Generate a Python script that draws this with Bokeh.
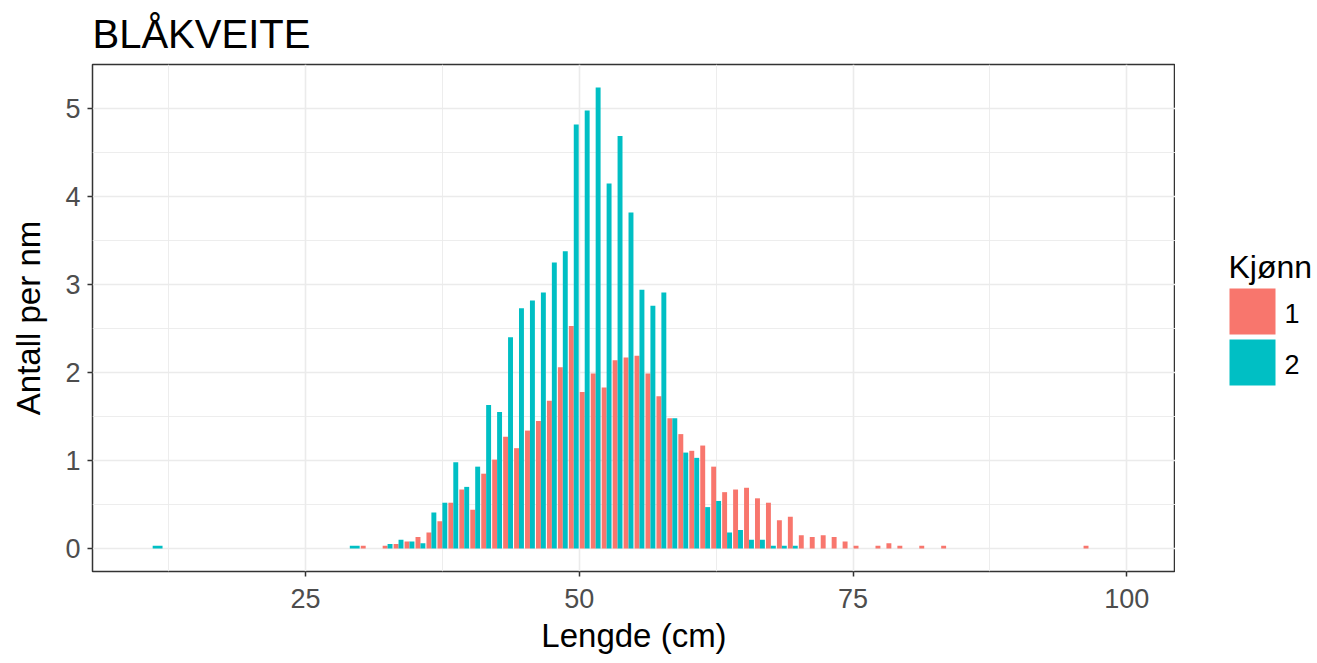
from bokeh.plotting import figure
from bokeh.layouts import row
from bokeh.models import ColumnDataSource, Range1d, FixedTicker
from bokeh.core.properties import value
from bokeh.embed import file_html
from bokeh.resources import INLINE

# ---- data ----
title_text = "BLÅKVEITE"
x_label = "Lengde (cm)"
y_label = "Antall per nm"
legend_title = "Kjønn"
sex_labels = ["1", "2"]

lengths = [11.5, 29.5, 30.5, 32.5, 33.5, 34.5, 35.5, 36.5, 37.5, 38.5, 39.5,
           40.5, 41.5, 42.5, 43.5, 44.5, 45.5, 46.5, 47.5, 48.5, 49.5,
           50.5, 51.5, 52.5, 53.5, 54.5, 55.5, 56.5, 57.5, 58.5, 59.5,
           60.5, 61.5, 62.5, 63.5, 64.5, 65.5, 66.5, 67.5, 68.5, 69.5,
           70.5, 71.5, 72.5, 73.5, 74.5, 75.5, 77.5, 78.5, 79.5, 81.5,
           83.5, 96.5]

sex1 = [None, None, 0.03, 0.03, 0.05, 0.08, 0.13, 0.18, 0.31, 0.52, 0.67,
        0.44, 0.85, 1.01, 1.27, 1.14, 1.34, 1.45, 1.68, 2.06, 2.53,
        1.78, 1.99, 1.83, 2.14, 2.17, 2.19, 1.99, 1.73, 1.48, 1.30,
        1.11, 1.17, 0.93, 0.64, 0.67, 0.69, 0.57, 0.52, 0.32, 0.36,
        0.15, 0.13, 0.15, 0.13, 0.08, 0.03, 0.03, 0.06, 0.03, 0.03,
        0.03, 0.03]

sex2 = [0.03, 0.03, 0.0, 0.05, 0.10, 0.08, 0.06, 0.41, 0.52, 0.98, 0.70,
        0.93, 1.63, 1.55, 2.40, 2.73, 2.82, 2.91, 3.25, 3.38, 4.82,
        4.98, 5.24, 4.15, 4.69, 3.82, 2.94, 2.76, 2.91, 1.48, 1.09,
        1.03, 0.47, 0.54, 0.18, 0.21, 0.10, 0.10, 0.03, 0.03, 0.03,
        0.0, 0.0, 0.0, 0.0, 0.0, 0.0, 0.0, 0.0, 0.0, 0.0,
        0.0, 0.0]

x_ticks = [25, 50, 75, 100]
x_minor = [12.5, 37.5, 62.5, 87.5]
y_ticks = [0, 1, 2, 3, 4, 5]
y_minor = [0.5, 1.5, 2.5, 3.5, 4.5]

RED = "#F8766D"
TEAL = "#00BFC4"
COLORS = [RED, TEAL]
FONT = "Liberation Sans"

# ---- dodge positions (ggplot position_dodge, total width 0.9) ----
DODGE = 0.9
red = dict(x=[], top=[], w=[])
teal = dict(x=[], top=[], w=[])
for L, a, b in zip(lengths, sex1, sex2):
    both = a is not None and b is not None
    if a is not None:
        red["x"].append(L - DODGE / 4 if both else L)
        red["top"].append(a)
        red["w"].append(DODGE / 2 if both else DODGE)
    if b is not None:
        teal["x"].append(L + DODGE / 4 if both else L)
        teal["top"].append(b)
        teal["w"].append(DODGE / 2 if both else DODGE)

TOP, FRAME_H, BOTTOM = 64, 507, 92

p = figure(width=1175, height=663, output_backend="svg", toolbar_location=None,
           x_range=Range1d(5.555, 104.445), y_range=Range1d(-0.262, 5.502),
           min_border_left=92, min_border_right=0, min_border_top=TOP,
           min_border_bottom=BOTTOM)
p.frame_width = 1083
p.frame_height = FRAME_H

p.vbar(x="x", top="top", width="w", source=ColumnDataSource(red),
       fill_color=RED, line_color=None)
p.vbar(x="x", top="top", width="w", source=ColumnDataSource(teal),
       fill_color=TEAL, line_color=None)

# title
p.title.text = title_text
p.title.text_font = FONT
p.title.text_font_size = "40px"
p.title.text_font_style = "normal"
p.title.text_color = "black"
p.title.offset = 0
p.title.standoff = 17

# axes
p.xaxis.ticker = FixedTicker(ticks=x_ticks, minor_ticks=x_minor)
p.yaxis.ticker = FixedTicker(ticks=y_ticks, minor_ticks=y_minor)
for ax in (p.xaxis[0], p.yaxis[0]):
    ax.axis_line_color = None
    ax.major_tick_line_color = "#333333"
    ax.major_tick_line_width = 1.5
    ax.major_tick_out = 5
    ax.major_tick_in = 0
    ax.minor_tick_line_color = None
    ax.major_label_text_font = FONT
    ax.major_label_text_font_size = "27px"
    ax.major_label_text_color = "#4D4D4D"
    ax.axis_label_text_font = FONT
    ax.axis_label_text_font_size = "33px"
    ax.axis_label_text_font_style = "normal"
    ax.axis_label_text_color = "black"
p.xaxis.major_label_standoff = 12
p.xaxis.axis_label_standoff = 6
p.yaxis.major_label_standoff = 7
p.yaxis.axis_label_standoff = 15
p.xaxis.axis_label = x_label
p.yaxis.axis_label = y_label

# grid
for g in (p.xgrid[0], p.ygrid[0]):
    g.grid_line_color = "#EBEBEB"
    g.grid_line_width = 1.6
    g.minor_grid_line_color = "#EBEBEB"
    g.minor_grid_line_width = 0.9

p.outline_line_color = "#333333"
p.outline_line_width = 1.5
p.background_fill_color = "white"
p.border_fill_color = "white"

# ---- legend panel: frame aligned with the main frame, y range = screen y ----
leg = figure(width=142, height=663, output_backend="svg", toolbar_location=None,
             x_range=Range1d(0, 142), y_range=Range1d(TOP + FRAME_H, TOP),
             x_axis_type=None, y_axis_type=None,
             min_border_left=0, min_border_right=0, min_border_top=TOP,
             min_border_bottom=BOTTOM)
leg.frame_width = 142
leg.frame_height = FRAME_H
leg.grid.visible = False
leg.outline_line_color = None
leg.background_fill_color = "white"
leg.border_fill_color = "white"

key_left, key_size, key_gap, key_top0 = 54, 46, 5, 288
key_tops = [key_top0 + i * (key_size + key_gap) for i in range(len(sex_labels))]
leg.quad(left=[key_left] * len(sex_labels),
         right=[key_left + key_size] * len(sex_labels),
         top=key_tops, bottom=[t + key_size for t in key_tops],
         fill_color=COLORS, line_color=None)
leg.text(x=[key_left + key_size + 9] * len(sex_labels),
         y=[t + key_size / 2 + 2 for t in key_tops], text=sex_labels,
         text_font=value(FONT), text_font_size="27px", text_color="black",
         text_baseline="middle", text_align="left")
leg.text(x=[53], y=[266], text=[legend_title],
         text_font=value(FONT), text_font_size="32px", text_color="black",
         text_baseline="middle", text_align="left")

layout = row(p, leg, spacing=0)
open("out.html", "w").write(file_html(layout, INLINE))
